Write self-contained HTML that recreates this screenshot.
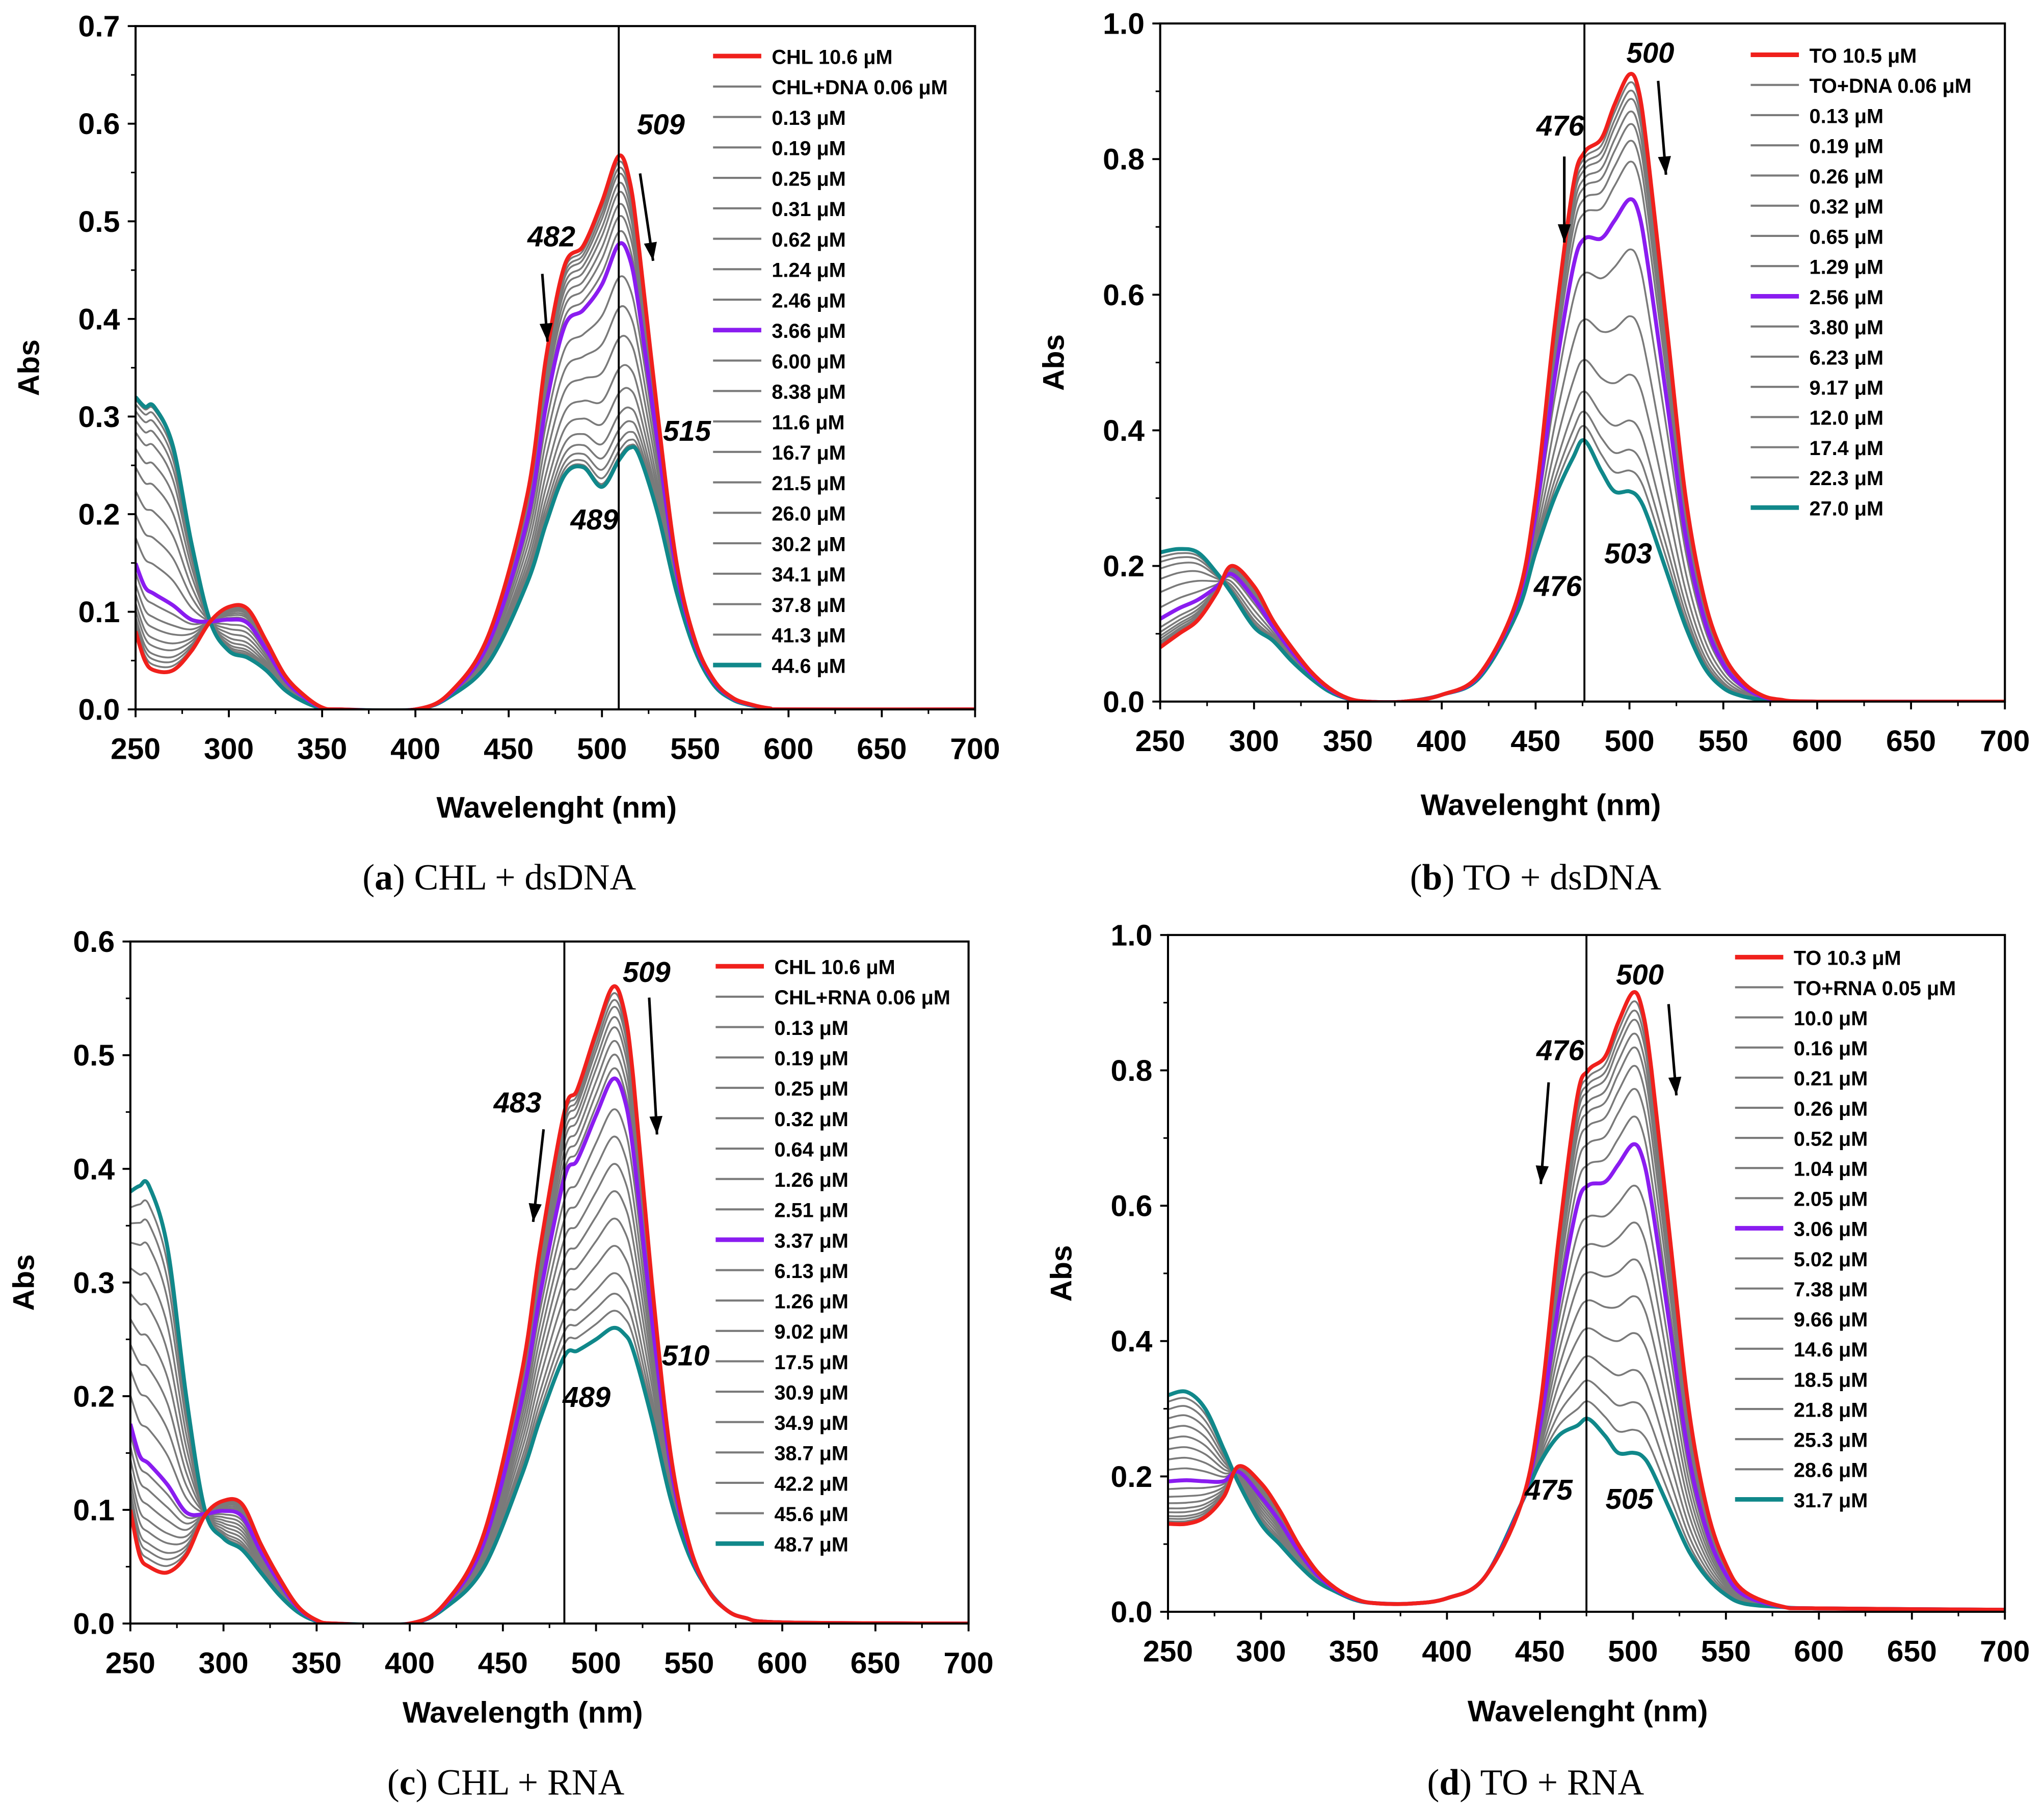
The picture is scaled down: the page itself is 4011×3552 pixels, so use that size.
<!DOCTYPE html>
<html><head><meta charset="utf-8">
<style>
html,body{margin:0;padding:0;background:#fff;}
svg{display:block;}
text{font-family:"Liberation Sans",Arial,sans-serif;}
</style></head>
<body>
<svg id="fig" xmlns="http://www.w3.org/2000/svg" width="4011" height="3552" viewBox="0 0 1568 1388" preserveAspectRatio="none"></svg>
<script>
// ---------- DATA ----------
const wlA = [250,255,260,270,280,290,300,310,320,330,340,350,360,400,420,440,460,470,480,490,500,509,515,520,530,540,550,560,570,580,590,600,700];
const redA = [0.08,0.05,0.04,0.04,0.06,0.09,0.105,0.103,0.07,0.035,0.015,0.002,0,0,0.02,0.08,0.22,0.36,0.455,0.475,0.52,0.567,0.54,0.47,0.3,0.15,0.07,0.03,0.012,0.005,0.001,0,0];
const tealA = [0.32,0.31,0.31,0.27,0.17,0.09,0.06,0.053,0.04,0.02,0.008,0.001,0,0,0.015,0.05,0.13,0.19,0.24,0.248,0.228,0.255,0.268,0.26,0.2,0.12,0.06,0.025,0.01,0.004,0.001,0,0];
const fracA = [0,0.02,0.04,0.06,0.09,0.12,0.16,0.2,0.25,0.29,0.4,0.5,0.6,0.7,0.78,0.85,0.9,0.94,0.97,0.99,1.0];
const legA = ["CHL 10.6 μM","CHL+DNA 0.06 μM","0.13 μM","0.19 μM","0.25 μM","0.31 μM","0.62 μM","1.24 μM","2.46 μM","3.66 μM","6.00 μM","8.38 μM","11.6 μM","16.7 μM","21.5 μM","26.0 μM","30.2 μM","34.1 μM","37.8 μM","41.3 μM","44.6 μM"];

const wlB = [250,260,270,280,288,300,310,320,330,340,350,360,380,400,420,440,450,460,470,476,485,492,500,505,510,520,530,540,550,560,570,580,600,700];
const redB = [0.08,0.1,0.12,0.16,0.2,0.17,0.12,0.08,0.045,0.02,0.005,0,0,0.01,0.04,0.15,0.3,0.55,0.76,0.81,0.83,0.88,0.925,0.9,0.8,0.55,0.3,0.15,0.07,0.03,0.01,0.003,0,0];
const tealB = [0.22,0.225,0.22,0.19,0.16,0.11,0.09,0.06,0.035,0.015,0.004,0,0,0.01,0.035,0.13,0.22,0.3,0.36,0.385,0.34,0.31,0.31,0.3,0.27,0.19,0.11,0.05,0.02,0.008,0.003,0.001,0,0];
const fracB = [0,0.02,0.04,0.06,0.09,0.12,0.16,0.21,0.3,0.42,0.58,0.72,0.83,0.9,0.95,1.0];
const legB = ["TO 10.5 μM","TO+DNA 0.06 μM","0.13 μM","0.19 μM","0.26 μM","0.32 μM","0.65 μM","1.29 μM","2.56 μM","3.80 μM","6.23 μM","9.17 μM","12.0 μM","17.4 μM","22.3 μM","27.0 μM"];

const wlC = [250,255,260,270,280,290,300,310,320,330,340,350,360,400,420,440,460,470,483,490,500,509,515,520,530,540,550,560,570,580,600,700];
const redC = [0.1,0.06,0.05,0.045,0.06,0.095,0.108,0.105,0.07,0.04,0.015,0.003,0,0,0.02,0.08,0.22,0.33,0.45,0.47,0.52,0.56,0.54,0.48,0.3,0.15,0.07,0.03,0.012,0.005,0.001,0];
const tealC = [0.38,0.385,0.385,0.33,0.2,0.1,0.075,0.065,0.045,0.025,0.01,0.002,0,0,0.015,0.05,0.13,0.18,0.235,0.24,0.25,0.26,0.255,0.24,0.18,0.11,0.06,0.03,0.012,0.005,0.001,0];
const fracC = [0,0.02,0.04,0.06,0.09,0.12,0.16,0.2,0.24,0.27,0.36,0.44,0.52,0.6,0.68,0.76,0.84,0.9,0.95,1.0];
const legC = ["CHL 10.6 μM","CHL+RNA 0.06 μM","0.13 μM","0.19 μM","0.25 μM","0.32 μM","0.64 μM","1.26 μM","2.51 μM","3.37 μM","6.13 μM","1.26 μM","9.02 μM","17.5 μM","30.9 μM","34.9 μM","38.7 μM","42.2 μM","45.6 μM","48.7 μM"];

const wlD = [250,260,270,280,288,300,310,320,330,340,350,360,380,400,420,440,450,460,470,476,485,492,500,505,510,520,530,540,550,560,580,600,700];
const redD = [0.13,0.13,0.14,0.17,0.215,0.19,0.15,0.1,0.06,0.035,0.02,0.013,0.012,0.02,0.05,0.16,0.3,0.55,0.76,0.8,0.82,0.87,0.915,0.89,0.8,0.55,0.3,0.15,0.07,0.03,0.008,0.005,0.003];
const tealD = [0.32,0.325,0.3,0.24,0.19,0.13,0.1,0.07,0.045,0.03,0.018,0.013,0.012,0.02,0.05,0.16,0.22,0.26,0.275,0.285,0.26,0.235,0.235,0.23,0.21,0.15,0.09,0.05,0.025,0.012,0.007,0.005,0.003];
const fracD = [0,0.02,0.04,0.06,0.09,0.12,0.16,0.21,0.27,0.33,0.42,0.5,0.58,0.66,0.74,0.82,0.89,0.95,1.0];
const legD = ["TO 10.3 μM","TO+RNA 0.05 μM","10.0 μM","0.16 μM","0.21 μM","0.26 μM","0.52 μM","1.04 μM","2.05 μM","3.06 μM","5.02 μM","7.38 μM","9.66 μM","14.6 μM","18.5 μM","21.8 μM","25.3 μM","28.6 μM","31.7 μM"];

const xTicks = [250,300,350,400,450,500,550,600,650,700];

// ---------- DRAW ----------
const NS = "http://www.w3.org/2000/svg";
const svg = document.getElementById('fig');
function el(tag, attrs, parent, txt){
  const e = document.createElementNS(NS, tag);
  for (const k in attrs) e.setAttribute(k, attrs[k]);
  if (txt !== undefined) e.textContent = txt;
  (parent || svg).appendChild(e);
  return e;
}
function smoothPath(pts){
  let d = "M" + pts[0][0].toFixed(2) + "," + pts[0][1].toFixed(2);
  for (let i = 0; i < pts.length - 1; i++){
    const p0 = pts[Math.max(0,i-1)], p1 = pts[i], p2 = pts[i+1], p3 = pts[Math.min(pts.length-1,i+2)];
    const c1x = p1[0] + (p2[0]-p0[0])/6, c1y = p1[1] + (p2[1]-p0[1])/6;
    const c2x = p2[0] - (p3[0]-p1[0])/6, c2y = p2[1] - (p3[1]-p1[1])/6;
    d += " C" + c1x.toFixed(2) + "," + c1y.toFixed(2) + " " + c2x.toFixed(2) + "," + c2y.toFixed(2) + " " + p2[0].toFixed(2) + "," + p2[1].toFixed(2);
  }
  return d;
}

function panel(cfg){
  const g = el('g', {});
  
  
  const X = w => cfg.x0 + (w - 250) / 450 * (cfg.x1 - cfg.x0);
  const Y = v => cfg.y1 - v / cfg.ymax * (cfg.y1 - cfg.y0);
  const cid = cfg.name + "-clip";
  const cp = el('clipPath', {id: cid}, g);
  el('rect', {x: cfg.x0, y: cfg.y0, width: cfg.x1 - cfg.x0, height: cfg.y1 - cfg.y0}, cp);
  const series = el('g', {'clip-path': 'url(#' + cid + ')'}, g);
  
  
  const order = [];
  for (let i = 1; i < cfg.frac.length - 1; i++) if (i !== cfg.purple) order.push(i);
  order.push(cfg.frac.length - 1, cfg.purple, 0);
  order.forEach(i => {
    const f = cfg.frac[i];
    const pts = cfg.wl.map((w, k) => [X(w), Y(cfg.red[k] * (1 - f) + cfg.teal[k] * f)]);
    let col = '#7a7a7a', sw = 1.4;
    if (i === 0) { col = '#f0201c'; sw = 3; }
    else if (i === cfg.purple) { col = '#8a1cf0'; sw = 3; }
    else if (i === cfg.frac.length - 1) { col = '#10888a'; sw = 3; }
    const p = el('path', {d: smoothPath(pts), fill: 'none', stroke: col, 'stroke-width': sw}, series);
    
    
  });
  const vl = el('line', {x1: X(cfg.vline), x2: X(cfg.vline), y1: cfg.y0, y2: cfg.y1, stroke: '#000', 'stroke-width': 1.5}, g);
  
  
  const fr = el('rect', {x: cfg.x0, y: cfg.y0, width: cfg.x1 - cfg.x0, height: cfg.y1 - cfg.y0, fill: 'none', stroke: '#000', 'stroke-width': 1.6}, g);
  
  
  xTicks.forEach(t => {
    el('line', {x1: X(t), x2: X(t), y1: cfg.y1, y2: cfg.y1 + 6, stroke: '#000', 'stroke-width': 1.5}, g);
    if (t < 700) el('line', {x1: X(t + 25), x2: X(t + 25), y1: cfg.y1, y2: cfg.y1 + 3.5, stroke: '#000', 'stroke-width': 1.2}, g);
    const tl = el('text', {x: X(t), y: cfg.y1 + 38, 'text-anchor': 'middle', 'font-size': 23, 'font-weight': 'bold'}, g, t);
    
    
  });
  for (let v = 0; v <= cfg.ymax + 1e-9; v += cfg.ystep){
    el('line', {x1: cfg.x0 - 6, x2: cfg.x0, y1: Y(v), y2: Y(v), stroke: '#000', 'stroke-width': 1.5}, g);
    if (v + cfg.ystep / 2 <= cfg.ymax) el('line', {x1: cfg.x0 - 3.5, x2: cfg.x0, y1: Y(v + cfg.ystep / 2), y2: Y(v + cfg.ystep / 2), stroke: '#000', 'stroke-width': 1.2}, g);
    const tl = el('text', {x: cfg.x0 - 12, y: Y(v) + 8, 'text-anchor': 'end', 'font-size': 23, 'font-weight': 'bold'}, g, v.toFixed(1));
    
    
  }
  const yt = el('text', {x: 0, y: 0, transform: 'translate(' + (cfg.x0 - 74) + ',' + ((cfg.y0 + cfg.y1) / 2) + ') rotate(-90)', 'text-anchor': 'middle', 'font-size': 23, 'font-weight': 'bold'}, g, 'Abs');
  
  
  const xt = el('text', {x: cfg.xtx, y: cfg.xty, 'text-anchor': 'middle', 'font-size': 23, 'font-weight': 'bold'}, g, cfg.xlabel);
  
  
  const lg = el('g', {}, g);
  
  
  cfg.leg.forEach((s, i) => {
    const yy = cfg.ly + i * cfg.lstep;
    let col = '#7a7a7a', sw = 1.6;
    if (i === 0) { col = '#f0201c'; sw = 3.5; }
    else if (i === cfg.purple) { col = '#8a1cf0'; sw = 3.5; }
    else if (i === cfg.leg.length - 1) { col = '#10888a'; sw = 3.5; }
    el('line', {x1: cfg.lx, x2: cfg.lx + 37, y1: yy, y2: yy, stroke: col, 'stroke-width': sw}, lg);
    const t = el('text', {x: cfg.lx + 45, y: yy + 6, 'font-size': 15.5, 'font-weight': 'bold'}, lg, s);
    
    
  });
  cfg.notes.forEach(n => {
    const t = el('text', {x: n[0], y: n[1], 'font-size': 22, 'font-weight': 'bold', 'font-style': 'italic', 'text-anchor': 'middle'}, g, n[2]);
    
    
  });
  cfg.arrows.forEach(a => {
    const [x1, y1, x2, y2] = a;
    el('line', {x1, y1, x2, y2, stroke: '#000', 'stroke-width': 2}, g);
    const ang = Math.atan2(y2 - y1, x2 - x1), L = 14, W = 5;
    const bx = x2 - L * Math.cos(ang), by = y2 - L * Math.sin(ang);
    const ar = el('polygon', {points: x2 + ',' + y2 + ' ' + (bx - W * Math.sin(ang)) + ',' + (by + W * Math.cos(ang)) + ' ' + (bx + W * Math.sin(ang)) + ',' + (by - W * Math.cos(ang)), fill: '#000'}, g);
    
    
  });
  const cap = el('text', {x: cfg.capx, y: cfg.capy, 'text-anchor': 'middle', 'font-size': 28, style: 'font-family:"Liberation Serif",serif'}, g);
  
  
  el('tspan', {}, cap, '(');
  el('tspan', {'font-weight': 'bold'}, cap, cfg.letter);
  el('tspan', {}, cap, ') ' + cfg.caption);
}

panel({name:'panel-a', x0:104, x1:748, y0:20, y1:544, ymax:0.7, ystep:0.1, wl:wlA, red:redA, teal:tealA, frac:fracA, purple:9, leg:legA,
  lx:547, ly:43, lstep:23.35, vline:509, xlabel:'Wavelenght (nm)', xtx:427, xty:627,
  notes:[[507,103,'509'],[423,189,'482'],[527,338,'515'],[456,406,'489']],
  arrows:[[491,133,501,200],[416,210,420,262]],
  capx:383, capy:682, letter:'a', caption:'CHL + dsDNA'});
panel({name:'panel-b', x0:890, x1:1538, y0:18, y1:538, ymax:1.0, ystep:0.2, wl:wlB, red:redB, teal:tealB, frac:fracB, purple:8, leg:legB,
  lx:1343, ly:42, lstep:23.15, vline:476, xlabel:'Wavelenght (nm)', xtx:1182, xty:625,
  notes:[[1266,48,'500'],[1197,104,'476'],[1195,457,'476'],[1249,432,'503']],
  arrows:[[1272,62,1278,134],[1200,120,1200,186]],
  capx:1178, capy:682, letter:'b', caption:'TO + dsDNA'});
panel({name:'panel-c', x0:100, x1:743, y0:722, y1:1245, ymax:0.6, ystep:0.1, wl:wlC, red:redC, teal:tealC, frac:fracC, purple:9, leg:legC,
  lx:549, ly:741, lstep:23.3, vline:483, xlabel:'Wavelength (nm)', xtx:401, xty:1321,
  notes:[[496,753,'509'],[397,853,'483'],[526,1047,'510'],[450,1079,'489']],
  arrows:[[498,765,504,870],[417,866,409,937]],
  capx:388, capy:1376, letter:'c', caption:'CHL + RNA'});
panel({name:'panel-d', x0:896, x1:1538, y0:717, y1:1236, ymax:1.0, ystep:0.2, wl:wlD, red:redD, teal:tealD, frac:fracD, purple:9, leg:legD,
  lx:1331, ly:734, lstep:23.1, vline:475, xlabel:'Wavelenght (nm)', xtx:1218, xty:1320,
  notes:[[1258,755,'500'],[1197,813,'476'],[1188,1150,'475'],[1250,1157,'505']],
  arrows:[[1280,770,1286,840],[1188,830,1182,908]],
  capx:1178, capy:1376, letter:'d', caption:'TO + RNA'});
</script>
</body></html>
